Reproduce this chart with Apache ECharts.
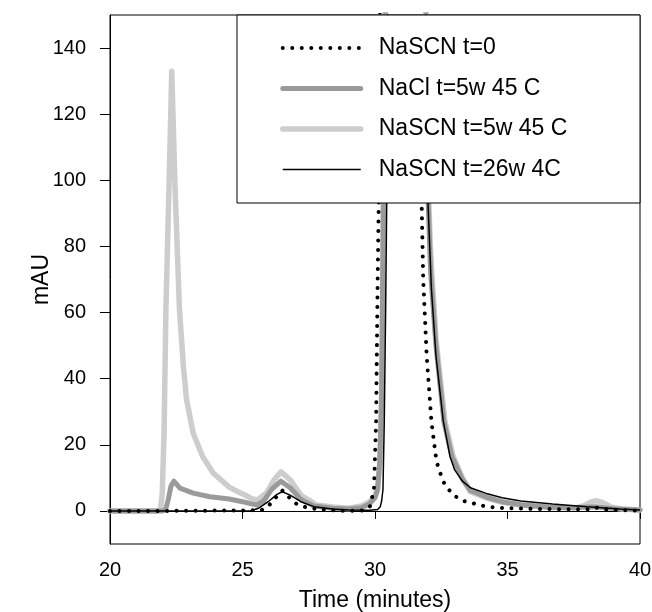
<!DOCTYPE html>
<html>
<head>
<meta charset="utf-8">
<script src="https://cdn.jsdelivr.net/npm/echarts@6/dist/echarts.min.js"></script>
<style>
  html, body { margin: 0; padding: 0; background: #fff; }
  #chart { width: 652px; height: 612px; }
</style>
</head>
<body>
<div id="chart"></div>
<script>
// series names, in legend order
var seriesNames = ['NaSCN t=0', 'NaCl t=5w 45 C', 'NaSCN t=5w 45 C', 'NaSCN t=26w 4C'];

// NaSCN t=0 (dotted)
var t0Time = [20, 22.0, 25.7, 25.9, 26.1, 26.3, 26.5, 26.7, 26.9, 27.1, 27.5, 28.0, 28.6, 29.4, 29.6, 29.8, 29.96, 30.04, 30.1, 30.14, 30.2, 30.5, 31.0, 31.4, 31.6, 31.7, 31.76, 31.82, 31.95, 32.13, 32.32, 32.5, 32.64, 32.96, 33.3, 33.7, 34.2, 34.8, 36.0, 37.5, 38.0, 38.35, 38.7, 39.5, 40];
var t0Signal = [0, 0, 0.2, 1.0, 2.5, 4.5, 6.2, 4.6, 2.9, 1.8, 0.9, 0.4, 0.1, 0, 0.3, 1.2, 6.4, 26.6, 70, 93, 170, 320, 400, 330, 200, 125, 93, 70, 47, 27, 15, 10.5, 7.8, 4.8, 3.1, 2.3, 1.3, 0.9, 0.6, 0.5, 0.5, 1.0, 0.5, 0.2, 0.1];

// NaCl t=5w 45 C (dark grey)
var naclTime = [20, 22.0, 22.1, 22.2, 22.3, 22.41, 22.64, 23.14, 23.77, 24.5, 25.0, 25.3, 25.55, 25.8, 26.1, 26.45, 26.8, 27.2, 27.7, 28.4, 29.0, 29.5, 29.8, 30.0, 30.1, 30.18, 30.25, 30.3, 30.4, 30.7, 31.2, 31.7, 31.9, 32.0, 32.1, 32.3, 32.6, 32.9, 33.3, 33.6, 34.2, 34.8, 35.5, 36.5, 37.5, 38.3, 39.0, 40];
var naclSignal = [0, 0, 0.5, 3.5, 7.5, 9.0, 6.9, 5.4, 4.3, 3.6, 2.8, 2.2, 1.8, 3.0, 6.5, 9.0, 7.0, 3.5, 1.5, 0.8, 0.6, 1.0, 2.2, 4.0, 6.4, 15, 35, 80, 160, 330, 420, 300, 165, 95, 72, 50, 27, 16.5, 9.5, 6.2, 4.2, 2.8, 1.9, 1.2, 1.0, 1.3, 0.7, 0.3];

// NaSCN t=5w 45 C (light grey)
var hotTime = [20, 21.75, 21.9, 21.97, 22.04, 22.11, 22.23, 22.33, 22.45, 22.62, 22.77, 22.89, 23.14, 23.5, 23.9, 24.5, 24.8, 25.0, 25.3, 25.55, 25.9, 26.2, 26.45, 26.8, 27.2, 27.8, 28.4, 29.0, 29.5, 29.8, 30.0, 30.1, 30.17, 30.23, 30.28, 30.32, 30.4, 30.7, 31.2, 31.7, 31.9, 32.0, 32.1, 32.3, 32.64, 32.95, 33.3, 33.6, 34.2, 34.8, 35.47, 36.7, 37.6, 37.9, 38.15, 38.35, 38.6, 38.9, 39.3, 40];
var hotSignal = [0, 0, 0.3, 5, 23.5, 61, 99, 133, 99, 61, 43.7, 33.6, 23.5, 16.4, 11.4, 7.2, 5.9, 5.2, 3.9, 3.3, 5.4, 9.5, 11.8, 9.4, 4.8, 1.8, 1.2, 0.8, 1.5, 2.8, 4.5, 7, 14, 27, 55, 93, 160, 330, 420, 300, 170, 100, 78, 52, 27, 16.5, 10, 5.8, 3.9, 2.6, 1.8, 1.0, 1.0, 1.6, 2.7, 3.1, 2.5, 1.2, 0.6, 0.3];

// NaSCN t=26w 4C (thin black)
var coldTime = [20, 25.3, 25.6, 26.0, 26.3, 26.5, 26.8, 27.2, 27.7, 28.4, 29.0, 29.8, 30.1, 30.2, 30.25, 30.3, 30.35, 30.4, 30.45, 30.5, 30.8, 31.3, 31.7, 31.9, 32.0, 32.13, 32.3, 32.58, 32.83, 33.0, 33.3, 33.6, 34.2, 34.8, 35.5, 36.7, 38.0, 39.25, 40];
var coldSignal = [0, 0, 0.8, 3.0, 5.0, 5.8, 4.8, 2.8, 1.3, 0.6, 0.3, 0.2, 0.4, 1.3, 3, 6.4, 27, 60, 100, 170, 350, 420, 300, 160, 93, 67, 47, 27, 16.5, 12.5, 9, 7, 5.3, 4, 3, 2.1, 1.3, 0.6, 0.3];

var yTicks = [0, 20, 40, 60, 80, 100, 120, 140];

function pairs(xs, ys) {
  var out = [];
  for (var i = 0; i < xs.length; i++) out.push([xs[i], ys[i]]);
  return out;
}

var font = 'Liberation Sans, Arial, sans-serif';

var styles = {};
styles[seriesNames[0]] = { color: '#000', width: 4, type: [0.01, 9.5], cap: 'round' };
styles[seriesNames[1]] = { color: '#9a9a9a', width: 5, cap: 'round', join: 'round' };
styles[seriesNames[2]] = { color: '#cdcdcd', width: 5.5, cap: 'round', join: 'round' };
styles[seriesNames[3]] = { color: '#000', width: 1.5 };

var legendData = seriesNames.map(function(n) {
  return {
    name: n,
    itemStyle: { opacity: 0 },
    lineStyle: styles[n]
  };
});

var option = {
  animation: false,
  backgroundColor: '#fff',
  textStyle: { fontFamily: font, color: '#000' },
  grid: {
    left: 110, right: 12, top: 15, bottom: 68,
    outerBoundsMode: 'none',
    containLabel: false,
    show: true, borderColor: '#000', borderWidth: 1
  },
  xAxis: {
    type: 'value',
    min: 20, max: 40, interval: 5,
    name: 'Time (minutes)',
    nameLocation: 'middle',
    nameGap: 45,
    nameTextStyle: { fontSize: 23, color: '#000', fontFamily: font },
    axisLine: { lineStyle: { color: '#000', width: 1 } },
    axisTick: { inside: false, length: 8, lineStyle: { color: '#000' } },
    axisLabel: { fontSize: 20, color: '#000', margin: 16, fontFamily: font },
    splitLine: { show: false }
  },
  yAxis: {
    type: 'value',
    min: -10, max: 150,
    name: 'mAU',
    nameLocation: 'middle',
    nameRotate: 90,
    nameGap: 57,
    nameMoveOverlap: false,
    nameTextStyle: { fontSize: 23, color: '#000', fontFamily: font },
    axisLine: { show: true, lineStyle: { color: '#000', width: 1 } },
    axisTick: { show: true, length: 10, customValues: yTicks, lineStyle: { color: '#000' } },
    axisLabel: { fontSize: 20, color: '#000', margin: 24, customValues: yTicks, fontFamily: font },
    splitLine: { show: false }
  },
  graphic: [{
    type: 'rect',
    z: 50,
    shape: { x: 237, y: 15, width: 403, height: 188 },
    style: { fill: '#fff', stroke: '#000', lineWidth: 1 }
  }],
  legend: {
    z: 60,
    orient: 'vertical',
    left: 280, top: 36,
    padding: 0,
    itemWidth: 78, itemHeight: 14, itemGap: 16.5,
    data: legendData,
    textStyle: { fontSize: 23, color: '#000', lineHeight: 24, padding: [0, 0, 0, 13], fontFamily: font }
  },
  series: [{
    name: seriesNames[2],
    type: 'line',
    symbol: 'none',
    data: pairs(hotTime, hotSignal),
    lineStyle: styles[seriesNames[2]],
    itemStyle: { color: '#cdcdcd' },
    z: 2
  }, {
    name: seriesNames[1],
    type: 'line',
    symbol: 'none',
    data: pairs(naclTime, naclSignal),
    lineStyle: styles[seriesNames[1]],
    itemStyle: { color: '#9a9a9a' },
    z: 3
  }, {
    name: seriesNames[3],
    type: 'line',
    symbol: 'none',
    data: pairs(coldTime, coldSignal),
    lineStyle: styles[seriesNames[3]],
    itemStyle: { color: '#000' },
    z: 4
  }, {
    name: seriesNames[0],
    type: 'line',
    symbol: 'none',
    data: pairs(t0Time, t0Signal),
    lineStyle: styles[seriesNames[0]],
    itemStyle: { color: '#000' },
    z: 5
  }]
};

echarts.init(document.getElementById('chart')).setOption(option);
</script>
</body>
</html>
